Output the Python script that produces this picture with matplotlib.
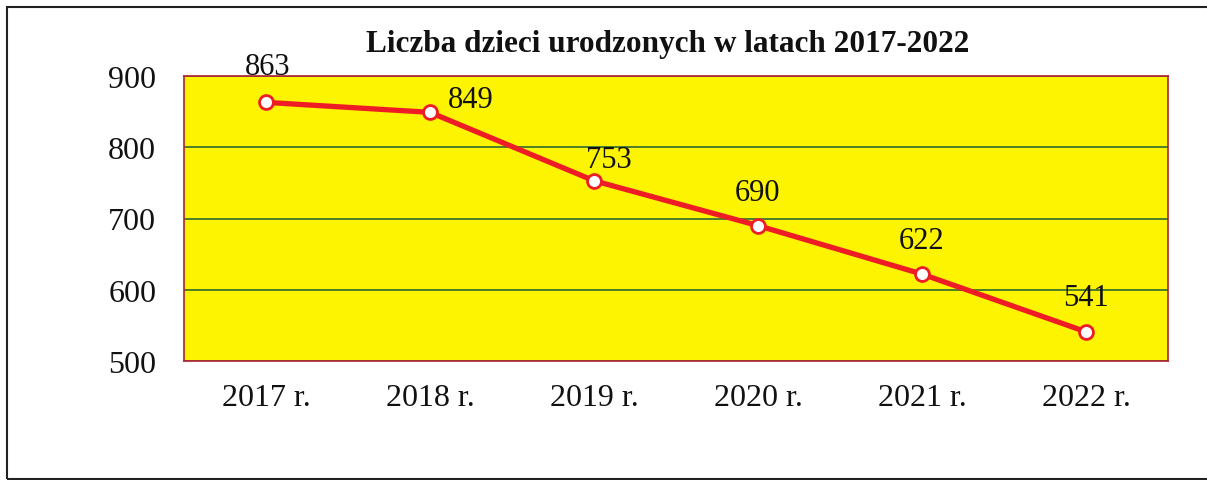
import numpy as np
import matplotlib.pyplot as plt
from matplotlib.patches import Rectangle

years = ["2017 r.", "2018 r.", "2019 r.", "2020 r.", "2021 r.", "2022 r."]
births = [863, 849, 753, 690, 622, 541]
yticks = [500, 600, 700, 800, 900]
title = "Liczba dzieci urodzonych w latach 2017-2022"

# label offsets in points (dx, dy), as placed in the original
label_offsets = [(1, 26), (29, 9), (11, 15), (0, 24), (0, 24), (0, 25)]

plt.rcParams['font.family'] = ['Liberation Serif', 'DejaVu Serif']

W, H = 1207, 481
fig = plt.figure(figsize=(W / 100, H / 100), dpi=100)
ax = fig.add_axes([184 / W, 1 - 362 / H, (1168 - 184) / W, (362 - 77) / H])

x = np.arange(len(years))
ax.set_facecolor('#fcf400')
ax.plot(x, births, color='#ee1c25', lw=3.8, marker='o', ms=10,
        mfc='white', mec='#ee1c25', mew=2, zorder=3, clip_on=False)

for xi, v, (dx, dy) in zip(x, births, label_offsets):
    ax.annotate(str(v), (xi, v), xytext=(dx, dy), textcoords='offset points',
                ha='center', va='center', fontsize=22, color='#111111')

ax.set_xlim(-0.5, len(years) - 0.5)
ax.set_ylim(500, 900)
ax.set_yticks(yticks)
ax.set_xticks(x)
ax.set_xticklabels(years)
ax.tick_params(length=0, labelsize=23, colors='#111111')
ax.tick_params(axis='x', pad=16)
ax.tick_params(axis='y', pad=20)
ax.yaxis.grid(True, color='#2e6b2e', lw=1.2)
ax.set_axisbelow(True)
for s in ax.spines.values():
    s.set_color('#b02030')
    s.set_linewidth(1.2)

fig.text(668 / W, 1 - 45 / H, title, ha='center', va='center',
         fontsize=22.5, fontweight='bold', color='#111111')

# outer frame
fig.patches.append(Rectangle((7 / W, 1 - 480 / H), 1.2, (480 - 8) / H,
                             transform=fig.transFigure, fill=False,
                             ec='#222222', lw=1.5))

plt.savefig("out.png", dpi=100)
plt.close()
